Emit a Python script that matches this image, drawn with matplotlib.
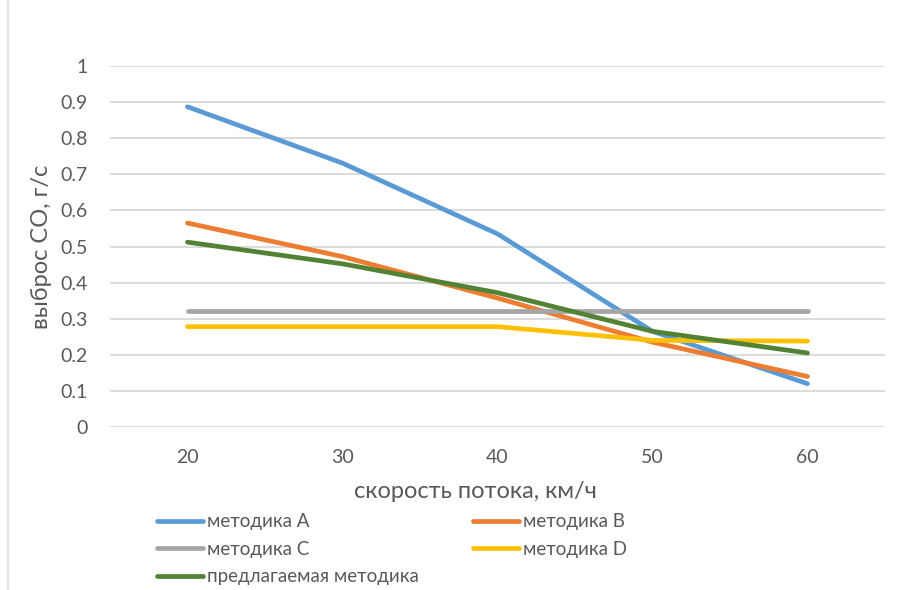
import matplotlib.pyplot as plt
from matplotlib.lines import Line2D

plt.rcParams['font.family'] = ['Lato', 'DejaVu Sans']

speed = [20, 30, 40, 50, 60]
method_a = [0.887, 0.731, 0.535, 0.265, 0.12]
method_b = [0.565, 0.472, 0.357, 0.235, 0.14]
method_c = [0.322, 0.322, 0.322, 0.322, 0.322]
method_d = [0.278, 0.278, 0.278, 0.24, 0.238]
proposed = [0.512, 0.452, 0.372, 0.265, 0.205]

names = ['методика A', 'методика B', 'методика C', 'методика D', 'предлагаемая методика']
colors = ['#5b9bd5', '#ed7d31', '#a5a5a5', '#ffc000', '#548235']
text_color = '#595959'

fig = plt.figure(figsize=(9.02, 5.9), dpi=100)
ax = fig.add_axes([110 / 902, 1 - 427 / 590, 775 / 902, 361 / 590])

for ys, name, c in zip([method_a, method_b, method_c, method_d, proposed], names, colors):
    ax.plot(speed, ys, color=c, lw=3.4, solid_capstyle='round',
            solid_joinstyle='round', label=name)

ax.set_xlim(15, 65)
ax.set_ylim(0, 1)
ax.set_xticks(speed)
ax.set_yticks([i / 10 for i in range(11)])
ax.set_yticklabels(['0', '0.1', '0.2', '0.3', '0.4', '0.5', '0.6', '0.7', '0.8', '0.9', '1'])
ax.grid(axis='y', color='#d9d9d9', lw=1.3)
ax.set_axisbelow(True)
for s in ax.spines.values():
    s.set_visible(False)
ax.tick_params(length=0, labelsize=14, labelcolor=text_color)
ax.tick_params(axis='y', pad=16)
ax.tick_params(axis='x', pad=16)

ax.set_xlabel('скорость потока, км/ч', fontsize=17, color=text_color)
ax.xaxis.set_label_coords(0.471, -0.15)
ax.set_ylabel('выброс CO, г/с', fontsize=17, color=text_color, labelpad=6)

# two legend columns placed separately, filled row by row
def add_legend(idx, x0):
    handles = [Line2D([], [], color=colors[i], lw=3.4, solid_capstyle='round') for i in idx]
    leg = fig.legend(handles, [names[i] for i in idx], loc='upper left',
                     bbox_to_anchor=(x0 / 902, 1 - 513.5 / 590), frameon=False,
                     fontsize=13.5, handlelength=2.45, handletextpad=0.2,
                     labelspacing=0.55, borderpad=0, borderaxespad=0)
    for t in leg.get_texts():
        t.set_color(text_color)

add_legend([0, 2, 4], 157)
add_legend([1, 3], 473)

# chart border on the left
fig.add_artist(Line2D([8 / 902, 8 / 902], [0, 1], color='#d9d9d9', lw=1.2))

fig.savefig('out.png', dpi=100, facecolor='white')
